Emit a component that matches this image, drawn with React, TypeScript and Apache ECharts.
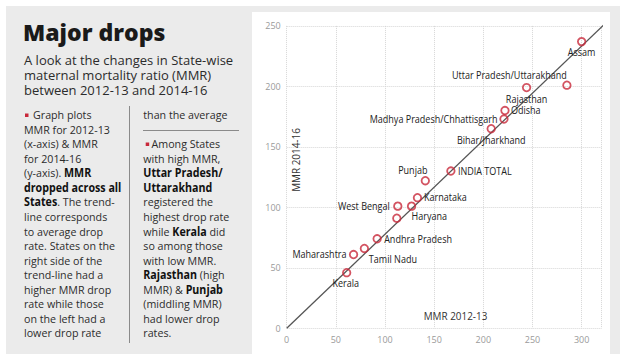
import React, { useEffect, useRef } from 'react';
import * as echarts from 'echarts';

// ---- data ----
const states = [
  'Assam',
  'Uttar Pradesh/Uttarakhand',
  'Rajasthan',
  'Odisha',
  'Madhya Pradesh/Chhattisgarh',
  'Bihar/Jharkhand',
  'INDIA TOTAL',
  'Punjab',
  'Karnataka',
  'Haryana',
  'West Bengal',
  'Gujarat',
  'Andhra Pradesh',
  'Tamil Nadu',
  'Maharashtra',
  'Kerala',
];
const mmr2012_13 = [300, 285, 244, 222, 221, 208, 167, 141, 133, 127, 113, 112, 92, 79, 68, 61];
const mmr2014_16 = [237, 201, 199, 180, 173, 165, 130, 122, 108, 101, 101, 91, 74, 66, 61, 46];
const trendX = [0, 324];
const trendY = [0, 252];

const titleText = 'Major drops';
const subtitleLines = [
  'A look at the changes in State-wise',
  'maternal mortality ratio (MMR)',
  'between 2012-13 and 2014-16',
];
const col1Lines = [
  'Graph plots',
  'MMR for 2012-13',
  '(x-axis) & MMR',
  'for 2014-16',
  '(y-axis). {b|MMR}',
  '{b|dropped across all}',
  '{b|States}. The trend-',
  'line corresponds',
  'to average drop',
  'rate. States on the',
  'right side of the',
  'trend-line had a',
  'higher MMR drop',
  'rate while those',
  'on the left had a',
  'lower drop rate',
];
const col2Top = 'than the average';
const col2Lines = [
  'Among States',
  'with high MMR,',
  '{b|Uttar Pradesh/}',
  '{b|Uttarakhand}',
  'registered the',
  'highest drop rate',
  'while {b|Kerala} did',
  'so among those',
  'with low MMR.',
  '{b|Rajasthan} (high',
  'MMR) & {b|Punjab}',
  '(middling MMR)',
  'had lower drop',
  'rates.',
];
const xAxisTitle = 'MMR 2012-13';
const yAxisTitle = 'MMR 2014-16';

// ---- label placement (style, not data) ----
type Placement = { align: 'left' | 'center' | 'right'; dx: number; dy: number };
const labelPlacement: Record<string, Placement> = {
  'Assam': { align: 'center', dx: 0, dy: 11 },
  'Uttar Pradesh/Uttarakhand': { align: 'right', dx: 0, dy: -10 },
  'Rajasthan': { align: 'center', dx: 0, dy: 11.5 },
  'Odisha': { align: 'left', dx: 6, dy: 0 },
  'Madhya Pradesh/Chhattisgarh': { align: 'right', dx: -6.5, dy: 0 },
  'Bihar/Jharkhand': { align: 'center', dx: 0, dy: 12 },
  'INDIA TOTAL': { align: 'left', dx: 7, dy: 0 },
  'Punjab': { align: 'center', dx: -12.5, dy: -10.5 },
  'Karnataka': { align: 'left', dx: 6.5, dy: 0 },
  'Haryana': { align: 'left', dx: 0, dy: 10 },
  'West Bengal': { align: 'right', dx: -8, dy: 0 },
  'Andhra Pradesh': { align: 'left', dx: 7, dy: 0 },
  'Tamil Nadu': { align: 'left', dx: 4.5, dy: 10.5 },
  'Maharashtra': { align: 'right', dx: -7, dy: 0 },
  'Kerala': { align: 'center', dx: -1, dy: 10.5 },
};

const FONT = "'Open Sans', 'Noto Sans', sans-serif";
const RED = '#c8283a';
const TEXT = '#2b2b2b';

export default function App() {
  const ref = useRef<HTMLDivElement>(null);

  useEffect(() => {
    if (!ref.current) return;
    const chart = echarts.init(ref.current, undefined, { renderer: 'svg' });

    const bodyRich = {
      b: { fontWeight: 'bold', fontSize: 11.5, fontFamily: FONT, fill: '#111' },
    };
    const rowY = (i: number) => 114.5 + 14.55 * i;

    const elements: any[] = [];
    elements.push({
      type: 'text', x: 23, y: 32, z: 10,
      style: { text: titleText, fontSize: 23, fontWeight: 800, fontFamily: FONT, fill: '#1a1a1a', align: 'left', verticalAlign: 'middle' },
    });
    elements.push({
      type: 'text', x: 24, y: 52.5, z: 10,
      style: { text: subtitleLines.join('\n'), fontSize: 13, lineHeight: 15, fontFamily: FONT, fill: TEXT, align: 'left', verticalAlign: 'top' },
    });
    col1Lines.forEach((t, i) => {
      elements.push({
        type: 'text', x: i === 0 ? 33 : 24, y: rowY(i), scaleX: 0.93, z: 10,
        style: { text: t, rich: bodyRich, fontSize: 11.5, fontFamily: FONT, fill: TEXT, align: 'left', verticalAlign: 'middle' },
      });
    });
    elements.push({
      type: 'text', x: 143.3, y: rowY(0), scaleX: 0.93, z: 10,
      style: { text: col2Top, fontSize: 11.5, fontFamily: FONT, fill: TEXT, align: 'left', verticalAlign: 'middle' },
    });
    col2Lines.forEach((t, i) => {
      elements.push({
        type: 'text', x: i === 0 ? 151.5 : 143.3, y: rowY(i + 2), scaleX: 0.93, z: 10,
        style: { text: t, rich: bodyRich, fontSize: 11.5, fontFamily: FONT, fill: TEXT, align: 'left', verticalAlign: 'middle' },
      });
    });
    elements.push({ type: 'rect', z: 10, shape: { x: 25, y: 113.5, width: 3.5, height: 3.5 }, style: { fill: RED } });
    elements.push({ type: 'rect', z: 10, shape: { x: 145.7, y: 142.5, width: 3.5, height: 3.5 }, style: { fill: RED } });
    elements.push({ type: 'line', z: 10, shape: { x1: 129.5, y1: 106, x2: 129.5, y2: 343 }, style: { stroke: '#8a8a8a', lineWidth: 1 } });
    elements.push({ type: 'line', z: 10, shape: { x1: 143, y1: 130.5, x2: 239, y2: 130.5 }, style: { stroke: '#8a8a8a', lineWidth: 1 } });
    elements.push({
      type: 'text', x: 296, y: 160, rotation: Math.PI / 2, scaleX: 0.9, z: 10,
      style: { text: yAxisTitle, fontSize: 11, fontFamily: FONT, fill: '#333', align: 'center', verticalAlign: 'middle' },
    });
    elements.push({
      type: 'text', x: 455.5, y: 315.8, scaleX: 0.9, z: 10,
      style: { text: xAxisTitle, fontSize: 11, fontFamily: FONT, fill: '#333', align: 'center', verticalAlign: 'middle' },
    });

    const points = states.map((s, i) => [mmr2012_13[i], mmr2014_16[i]]);

    chart.setOption({
      animation: false,
      backgroundColor: 'transparent',
      grid: { left: 286.7, right: 26.7, top: 25.9, bottom: 32.7 },
      xAxis: {
        type: 'value', min: 0, max: 320, interval: 50,
        axisLine: { show: false }, axisTick: { show: false },
        axisLabel: {
          color: '#9a9a9a', fontSize: 9, fontFamily: FONT, margin: 7, showMaxLabel: false,
          formatter: (v: number) => (v % 50 === 0 ? String(v) : ''),
        },
        splitLine: { show: true, lineStyle: { color: '#d6d6d6', type: 'dotted', width: 1 } },
      },
      yAxis: {
        type: 'value', min: 0, max: 250, interval: 50,
        axisLine: { show: false }, axisTick: { show: false },
        axisLabel: { color: '#9a9a9a', fontSize: 9, fontFamily: FONT, margin: 6 },
        splitLine: { show: true, lineStyle: { color: '#d6d6d6', type: 'dotted', width: 1 } },
      },
      graphic: { elements },
      series: [
        {
          type: 'line',
          data: trendX.map((x, i) => [x, trendY[i]]),
          showSymbol: false, symbol: 'none', clip: false, silent: true, z: 2,
          lineStyle: { color: '#555', width: 1.3 },
        },
        {
          type: 'scatter',
          data: points,
          symbol: 'circle', symbolSize: 7.5, silent: true, z: 3,
          itemStyle: { color: 'rgba(255,255,255,0)', borderColor: RED, borderWidth: 1.8 },
        },
        {
          type: 'custom',
          coordinateSystem: 'cartesian2d',
          data: points,
          silent: true, z: 4, clip: false,
          renderItem: (params: any, api: any) => {
            const name = states[params.dataIndex];
            const pl = labelPlacement[name];
            if (!pl) return { type: 'group', children: [] };
            const p = api.coord([api.value(0), api.value(1)]);
            return {
              type: 'text',
              x: p[0] + pl.dx,
              y: p[1] + pl.dy,
              scaleX: 0.86,
              style: {
                text: name, fill: '#222', fontSize: 10.5, fontFamily: FONT,
                align: pl.align, verticalAlign: 'middle',
              },
            };
          },
        },
      ],
    });

    return () => chart.dispose();
  }, []);

  return (
    <div style={{ position: 'fixed', left: 0, top: 0, width: 628, height: 361, background: '#ffffff', overflow: 'hidden' }}>
      <div style={{ position: 'absolute', left: 6, top: 6, width: 614, height: 348, background: '#ebebeb' }} />
      <div style={{ position: 'absolute', left: 252, top: 12, width: 358, height: 342, background: '#ffffff' }} />
      <div ref={ref} style={{ position: 'absolute', left: 0, top: 0, width: 628, height: 361 }} />
    </div>
  );
}
